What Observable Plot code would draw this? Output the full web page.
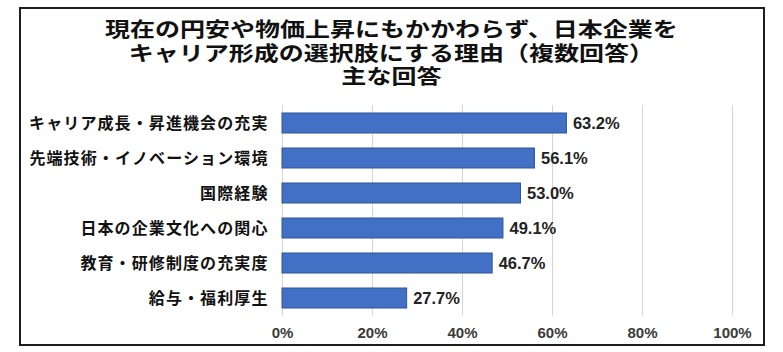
<!DOCTYPE html>
<html><head><meta charset="utf-8">
<script src="https://cdn.jsdelivr.net/npm/d3@7"></script>
<script src="https://cdn.jsdelivr.net/npm/@observablehq/plot@0.6"></script>
<style>
  html,body{margin:0;padding:0;background:#fff;}
  #wrap{position:relative;width:783px;height:352px;overflow:hidden;}
  #frame{position:absolute;left:19px;top:7px;width:746px;height:339px;border:2px solid #1e1e1e;box-sizing:border-box;pointer-events:none;}
  #title{position:absolute;left:0;top:17px;width:783px;text-align:center;font-family:"Noto Sans CJK JP",sans-serif;font-weight:bold;font-size:20.5px;color:#111;transform:scaleX(1.22);transform-origin:392px 0;}
  #title div{height:23.5px;line-height:23.5px;overflow:visible;white-space:nowrap;}
  #chart{position:absolute;left:0;top:88px;}
  #chart svg{display:block;}
  #chart g[aria-label="y-axis tick label"] text{letter-spacing:1.1px;}
</style>
</head><body>
<div id="wrap">
  <div id="title"></div>
  <div id="chart"></div>
  <div id="frame"></div>
</div>
<script>
const titleLines = ["現在の円安や物価上昇にもかかわらず、日本企業を", "キャリア形成の選択肢にする理由（複数回答）", "主な回答"];
const categories = ["キャリア成長・昇進機会の充実","先端技術・イノベーション環境","国際経験","日本の企業文化への関心","教育・研修制度の充実度","給与・福利厚生"];
const values = [63.2, 56.1, 53.0, 49.1, 46.7, 27.7];
const xTicks = [0, 20, 40, 60, 80, 100];

const titleEl = document.getElementById("title");
titleLines.forEach(t => { const d = document.createElement("div"); d.textContent = t; titleEl.appendChild(d); });

const data = categories.map((c, i) => ({category: c, value: values[i]}));

const plot = Plot.plot({
  width: 783,
  height: 264,
  marginLeft: 282,
  marginRight: 51,
  marginTop: 17,
  marginBottom: 36.5,
  style: {fontFamily: "'Noto Sans CJK JP', 'Liberation Sans', sans-serif", background: "transparent"},
  x: {domain: [0, 100], ticks: xTicks, tickFormat: d => d + "%", label: null},
  y: {domain: categories, paddingInner: 0.44, paddingOuter: 0.22, label: null},
  marks: [
    Plot.gridX(xTicks, {stroke: "#d4d4d4", strokeOpacity: 1, strokeWidth: 1}),
    Plot.barX(data, {x: "value", y: "category", fill: "#4170c4", stroke: "#2f5597", strokeWidth: 1}),
    Plot.text(data, {x: "value", y: "category", text: d => d.value.toFixed(1) + "%", textAnchor: "start", dx: 6, fontSize: 16.5, fontWeight: "bold", fill: "#222", fontFamily: "'Liberation Sans', Arial, sans-serif"}),
    Plot.axisY({tickSize: 0, tickPadding: 14, fontSize: 16, fontWeight: "bold", fill: "#111", label: null}),
    Plot.axisX(xTicks, {tickSize: 0, tickPadding: 11, fontSize: 15, fontWeight: "bold", fill: "#3a3a3a", label: null, tickFormat: d => d + "%", fontFamily: "'Liberation Sans', Arial, sans-serif"})
  ]
});
document.getElementById("chart").appendChild(plot);
</script>
</body></html>
